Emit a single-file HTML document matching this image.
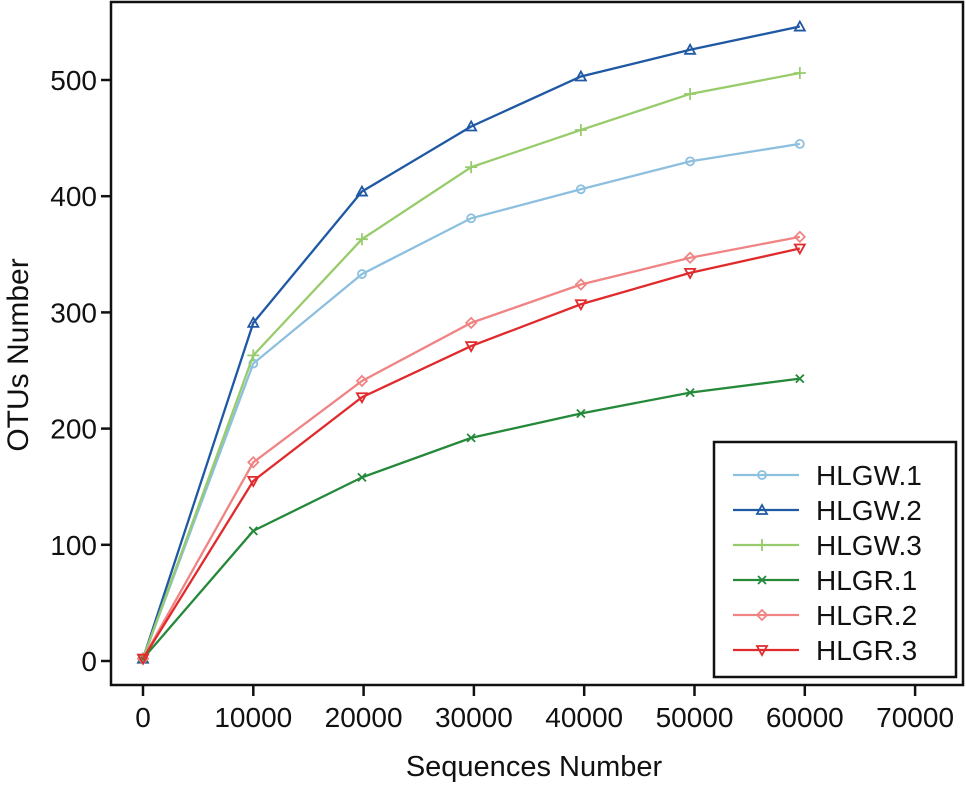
<!DOCTYPE html>
<html><head><meta charset="utf-8"><style>
body{margin:0;background:#fff}
svg text{font-family:"Liberation Sans",Arial,sans-serif;fill:#111}
</style></head><body>
<svg id="chart" width="966" height="783" viewBox="0 0 966 783" xmlns="http://www.w3.org/2000/svg">
<rect x="111" y="2" width="852" height="683" fill="none" stroke="#111" stroke-width="2.5"/>
<g id="axes"></g>
<g id="series"></g>
<text transform="translate(28,355) rotate(-90)" text-anchor="middle" font-size="30">OTUs Number</text>
<text x="534" y="776" text-anchor="middle" font-size="29">Sequences Number</text>
<g id="legend"></g>
</svg>
<script>
const xValues=[0,10000,19850,29750,39700,49600,59550];
const seriesNames=["HLGW.1","HLGW.2","HLGW.3","HLGR.1","HLGR.2","HLGR.3"];
const hlgw1=[2,256,333,381,406,430,445];
const hlgw2=[2,291,404,460,503,526,546];
const hlgw3=[2,263,363,425,457,488,506];
const hlgr1=[2,112,158,192,213,231,243];
const hlgr2=[2,171,241,291,324,347,365];
const hlgr3=[2,155,227,271,307,334,355];
const xTicks=[0,10000,20000,30000,40000,50000,60000,70000];
const yTicks=[0,100,200,300,400,500];
const allSeries=[hlgw1,hlgw2,hlgw3,hlgr1,hlgr2,hlgr3];
const colors=["#8dbfdf","#1f58a3","#98cb6b","#25893a","#f08484","#e02a2c"];
const markers=["circle","tri","plus","x","diamond","tridown"];
const NS="http://www.w3.org/2000/svg";
const sx=v=>143+v*0.01103;
const sy=v=>661-v*1.162;
function mk(tag,attrs,parent){const e=document.createElementNS(NS,tag);for(const k in attrs)e.setAttribute(k,attrs[k]);parent.appendChild(e);return e;}
const axes=document.getElementById('axes');
xTicks.forEach(t=>{
 const l=mk('line',{x1:sx(t),x2:sx(t),y1:685,y2:696,stroke:'#111','stroke-width':2.5},axes);
 
 
 const tx=mk('text',{x:sx(t),y:727,'text-anchor':'middle','font-size':28},axes);tx.textContent=t;
 
 
});
yTicks.forEach(t=>{
 const l=mk('line',{x1:101,x2:111,y1:sy(t),y2:sy(t),stroke:'#111','stroke-width':2.5},axes);
 
 
 const tx=mk('text',{x:97,y:sy(t)+10,'text-anchor':'end','font-size':28},axes);tx.textContent=t;
 
 
});
function marker(type,x,y,c,parent){
 const a={fill:'none',stroke:c,'stroke-width':1.8};let e;
 if(type=='circle')e=mk('circle',Object.assign({cx:x,cy:y,r:4},a),parent);
 else if(type=='tri')e=mk('path',Object.assign({d:`M${x},${y-5}L${x+5},${y+4}L${x-5},${y+4}Z`},a),parent);
 else if(type=='tridown')e=mk('path',Object.assign({d:`M${x},${y+5}L${x+5},${y-4}L${x-5},${y-4}Z`},a),parent);
 else if(type=='plus')e=mk('path',Object.assign({d:`M${x-6},${y}H${x+6}M${x},${y-6}V${y+6}`},a),parent);
 else if(type=='x')e=mk('path',Object.assign({d:`M${x-4},${y-4}L${x+4},${y+4}M${x-4},${y+4}L${x+4},${y-4}`},a),parent);
 else e=mk('path',Object.assign({d:`M${x},${y-5}L${x+5},${y}L${x},${y+5}L${x-5},${y}Z`},a),parent);
 
 
}
const sg=document.getElementById('series');
allSeries.forEach((s,i)=>{
 const g=mk('g',{},sg);
 
 
 const pts=s.map((v,j)=>sx(xValues[j])+','+sy(v)).join(' ');
 mk('polyline',{points:pts,fill:'none',stroke:colors[i],'stroke-width':2.3},g);
 s.forEach((v,j)=>marker(markers[i],sx(xValues[j]),sy(v),colors[i],g));
});
const lg=document.getElementById('legend');
mk('rect',{x:714,y:442,width:242,height:235,fill:'#fff',stroke:'#111','stroke-width':2.5},lg);
seriesNames.forEach((n,i)=>{
 const y=475+i*35;
 const g=mk('g',{},lg);
 
 
 mk('line',{x1:733,x2:799,y1:y,y2:y,stroke:colors[i],'stroke-width':2.3},g);
 marker(markers[i],762,y,colors[i],g);
 const t=mk('text',{x:816,y:y+10,'font-size':28},g);t.textContent=n;
});
</script>
</body></html>
